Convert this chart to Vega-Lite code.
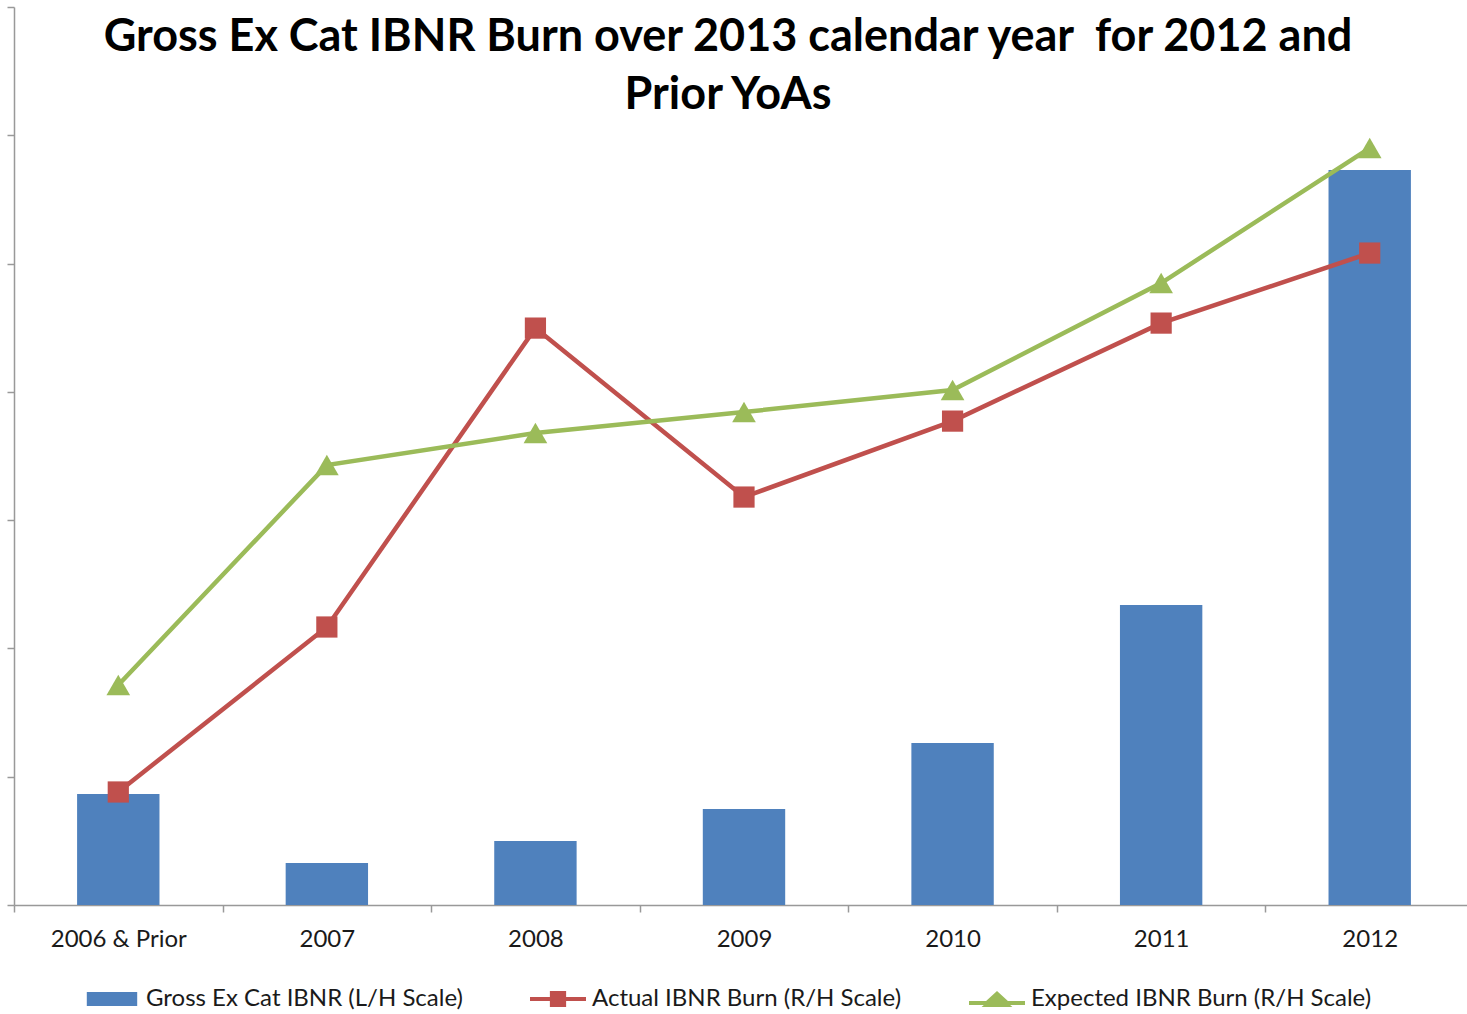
{
  "$schema": "https://vega.github.io/schema/vega-lite/v6.json",
  "autosize": "none",
  "width": 1460,
  "height": 898,
  "padding": {"left": 14, "top": 7, "right": 0, "bottom": 109},
  "background": "white",
  "title": {
    "text": ["Gross Ex Cat IBNR Burn over 2013 calendar year\u00a0 for 2012 and", "Prior YoAs"],
    "font": "Lato",
    "fontSize": 45,
    "fontWeight": "bold",
    "color": "#000000",
    "lineHeight": 58,
    "anchor": "middle",
    "offset": -112,
    "dx": -16
  },
  "config": {
    "view": {"stroke": null},
    "font": "Lato"
  },
  "data": {
    "values": [
      {"yoa": "2006 & Prior", "gross": 0.865, "actual": 0.881, "expected": 1.715},
      {"yoa": "2007", "gross": 0.327, "actual": 2.167, "expected": 3.429},
      {"yoa": "2008", "gross": 0.499, "actual": 4.497, "expected": 3.679},
      {"yoa": "2009", "gross": 0.748, "actual": 3.18, "expected": 3.843},
      {"yoa": "2010", "gross": 1.263, "actual": 3.772, "expected": 4.014},
      {"yoa": "2011", "gross": 2.338, "actual": 4.536, "expected": 4.848},
      {"yoa": "2012", "gross": 5.729, "actual": 5.082, "expected": 5.9}
    ]
  },
  "encoding": {
    "x": {
      "field": "yoa",
      "type": "nominal",
      "sort": null,
      "scale": {"paddingInner": 0, "paddingOuter": 0},
      "axis": {
        "title": null,
        "labelAngle": 0,
        "labelFont": "Lato",
        "labelFontSize": 24,
        "labelColor": "#1a1a1a",
        "labelPadding": 15,
        "tickBand": "extent",
        "tickSize": 7,
        "tickColor": "#999999",
        "domainColor": "#999999",
        "domainWidth": 1.5,
        "tickWidth": 1.5,
        "grid": false
      }
    }
  },
  "layer": [
    {
      "mark": {"type": "bar", "color": "#4F81BD", "width": {"band": 0.395}},
      "encoding": {
        "y": {
          "field": "gross",
          "type": "quantitative",
          "scale": {"domain": [0, 7], "nice": false},
          "axis": {
            "title": null,
            "labels": false,
            "values": [0, 1, 2, 3, 4, 5, 6, 7],
            "tickSize": 7,
            "tickColor": "#999999",
            "tickWidth": 1.5,
            "domainColor": "#999999",
            "domainWidth": 1.5,
            "grid": false
          }
        }
      }
    },
    {
      "mark": {"type": "line", "color": "#C0504D", "strokeWidth": 4.5},
      "encoding": {"y": {"field": "actual", "type": "quantitative"}}
    },
    {
      "mark": {"type": "point", "shape": "square", "filled": true, "size": 450, "color": "#C0504D", "opacity": 1},
      "encoding": {"y": {"field": "actual", "type": "quantitative"}}
    },
    {
      "mark": {"type": "line", "color": "#9BBB59", "strokeWidth": 4.5},
      "encoding": {"y": {"field": "expected", "type": "quantitative"}}
    },
    {
      "mark": {"type": "point", "shape": "triangle-up", "filled": true, "size": 560, "color": "#9BBB59", "opacity": 1},
      "encoding": {"y": {"field": "expected", "type": "quantitative"}}
    },
    {
      "data": {
        "values": [
          {"series": "Gross Ex Cat IBNR (L/H Scale)"},
          {"series": "Actual IBNR Burn (R/H Scale)"},
          {"series": "Expected IBNR Burn (R/H Scale)"}
        ]
      },
      "transform": [{"filter": "false"}],
      "mark": {"type": "point", "filled": true, "opacity": 1, "strokeWidth": 0},
      "encoding": {
        "x": {"value": 0},
        "y": {"value": 0},
        "color": {
          "field": "series",
          "type": "nominal",
          "scale": {
            "domain": ["Gross Ex Cat IBNR (L/H Scale)", "Actual IBNR Burn (R/H Scale)", "Expected IBNR Burn (R/H Scale)"],
            "range": ["#4F81BD", "#C0504D", "#9BBB59"]
          },
          "legend": {
            "title": null,
            "orient": "none",
            "legendX": 70,
            "legendY": 964,
            "direction": "horizontal",
            "columns": 3,
            "columnPadding": 67,
            "symbolSize": 3136,
            "symbolStrokeWidth": 0,
            "labelFont": "Lato",
            "labelFontSize": 24,
            "labelColor": "#1a1a1a",
            "labelOffset": 6,
            "labelLimit": 500
          }
        },
        "shape": {
          "field": "series",
          "type": "nominal",
          "scale": {
            "domain": ["Gross Ex Cat IBNR (L/H Scale)", "Actual IBNR Burn (R/H Scale)", "Expected IBNR Burn (R/H Scale)"],
            "range": [
              "M-0.9,-0.25H0.9V0.25H-0.9Z",
              "M-1,-0.07H-0.29V-0.29H0.29V-0.07H1V0.07H0.29V0.29H-0.29V0.07H-1Z",
              "M-1,0.07H-0.39L0,-0.29L0.39,0.07H1V0.21H0.47L0.55,0.29H-0.55L-0.47,0.21H-1Z"
            ]
          },
          "legend": null
        }
      }
    }
  ]
}
